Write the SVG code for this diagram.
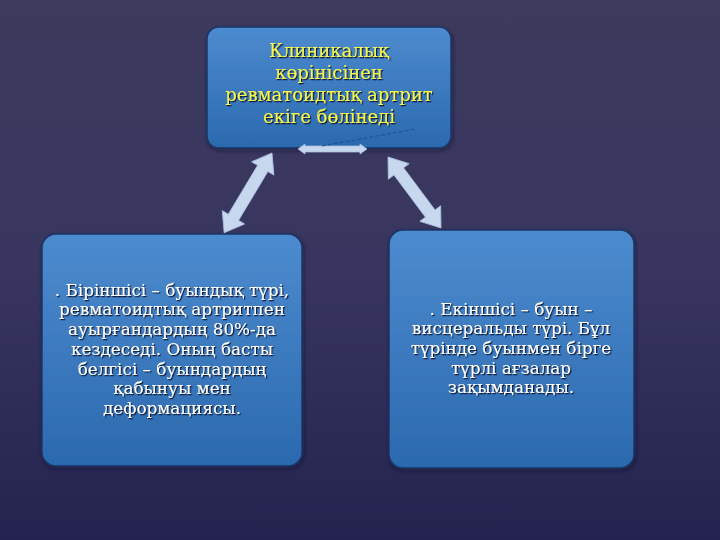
<svg xmlns="http://www.w3.org/2000/svg" width="720" height="540" viewBox="0 0 720 540">
<defs>
<linearGradient id="bg" x1="0" y1="0" x2="0" y2="1">
<stop offset="0" stop-color="#3d3a5d"/>
<stop offset="0.5" stop-color="#383660"/>
<stop offset="1" stop-color="#24234f"/>
</linearGradient>
<linearGradient id="box" x1="0" y1="0" x2="0" y2="1">
<stop offset="0" stop-color="#4d8bcf"/>
<stop offset="1" stop-color="#2b69ae"/>
</linearGradient>
<filter id="sh" x="-10%" y="-20%" width="120%" height="150%">
<feDropShadow dx="1.2" dy="1.2" stdDeviation="0.5" flood-color="#0a1430" flood-opacity="1"/>
</filter>
<filter id="bsh" x="-10%" y="-10%" width="120%" height="120%">
<feDropShadow dx="1" dy="2" stdDeviation="2" flood-color="#101030" flood-opacity="0.6"/>
</filter>
</defs>
<style>
.node rect{fill:url(#box);stroke:#1d3566;stroke-width:1.5;filter:url(#bsh)}
.t{font-family:"DejaVu Serif","Liberation Serif",serif;text-anchor:middle;filter:url(#sh)}
.top{font-size:18px;fill:#f6f84c}
.body{font-size:16.8px;fill:#ffffff}
.arr{fill:#c6d7ee;stroke:#a9bfdf;stroke-width:0.8}
</style>
<rect width="720" height="540" fill="url(#bg)"/>
<g id="node-top" class="node">
<rect x="207" y="27" width="244" height="121" rx="12"/>
<text class="t top" x="329" y="57">Клиникалық</text>
<text class="t top" x="329" y="79">көрінісінен</text>
<text class="t top" x="329" y="101">ревматоидтық артрит</text>
<text class="t top" x="329" y="123">екіге бөлінеді</text>
</g>
<g id="node-left" class="node">
<rect x="42" y="234" width="260" height="232" rx="14"/>
<text class="t body" x="172" y="296">. Біріншісі – буындық түрі,</text>
<text class="t body" x="172" y="315">ревматоидтық артритпен</text>
<text class="t body" x="172" y="335">ауырғандардың 80%-да</text>
<text class="t body" x="172" y="355">кездеседі. Оның басты</text>
<text class="t body" x="172" y="375">белгісі – буындардың</text>
<text class="t body" x="172" y="394">қабынуы мен</text>
<text class="t body" x="172" y="414">деформациясы.</text>
</g>
<g id="node-right" class="node">
<rect x="389" y="230" width="245" height="238" rx="14"/>
<text class="t body" x="511" y="315">. Екіншісі – буын –</text>
<text class="t body" x="511" y="334">висцеральды түрі. Бұл</text>
<text class="t body" x="511" y="354">түрінде буынмен бірге</text>
<text class="t body" x="511" y="374">түрлі ағзалар</text>
<text class="t body" x="511" y="393">зақымданады.</text>
</g>
<g id="connectors">
<path class="arr" transform="translate(272,153) rotate(120.96)" d="M0,0 L18,-13 L18,-6 L75,-6 L75,-13 L93,0 L75,13 L75,6 L18,6 L18,13 Z"/>
<path class="arr" transform="translate(388,157) rotate(53.26)" d="M0,0 L18,-13 L18,-6 L70.6,-6 L70.6,-13 L88.6,0 L70.6,13 L70.6,6 L18,6 L18,13 Z"/>
<path class="arr" transform="translate(298,149)" d="M0,0 L7,-5 L7,-3 L62,-3 L62,-5 L69,0 L62,5 L62,3 L7,3 L7,5 Z"/>
<line x1="322" y1="146" x2="415" y2="129" stroke="#1c4f8f" stroke-width="1" stroke-dasharray="4,2"/>
</g>
</svg>
